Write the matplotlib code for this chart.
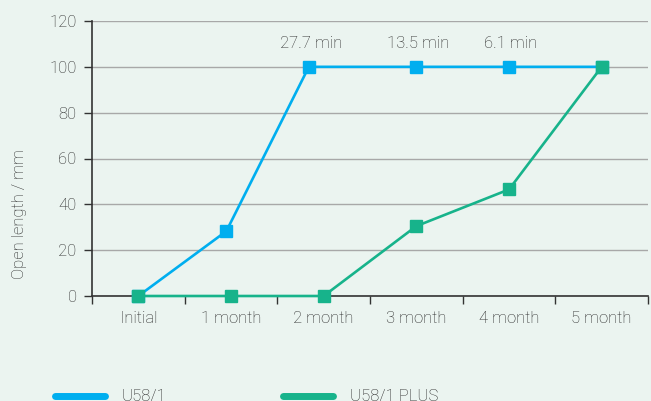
import matplotlib.pyplot as plt
from matplotlib.lines import Line2D
import numpy as np

plt.rcParams['font.family'] = ['Roboto', 'DejaVu Sans']
plt.rcParams['font.weight'] = 'light'

categories = ["Initial", "1 month", "2 month", "3 month", "4 month", "5 month"]

# blue series sits slightly left of the category centre at 1 and 2 month
u58_x = [0, 0.95, 1.84, 3, 4, 5]
u58_y = [0, 28.3, 100, 100, 100, 100]

plus_x = [0, 1, 2, 3, 4, 5]
plus_y = [0, 0, 0, 30.5, 46.5, 100]

note_x = [1.87, 3.02, 4.02]
note_text = ["27.7 min", "13.5 min", "6.1 min"]
note_y = 110

blue = '#00aeef'
green = '#17b38b'
bg = '#ebf4f0'
txt = '#262626'
fs = 12

fig = plt.figure(figsize=(6.51, 4.01), dpi=100, facecolor=bg)
ax = fig.add_axes([92/651, 1-296/401, 556/651, 275/401], facecolor=bg)

ax.set_xlim(-0.5, 5.5)
ax.set_ylim(0, 120)
ax.set_yticks(np.arange(0, 121, 20))
ax.yaxis.grid(True, color='#a8a8a8', linewidth=1)
ax.set_axisbelow(True)

ax.plot(u58_x, u58_y, color=blue, lw=1.9, marker='s', ms=8, zorder=3, clip_on=False)
ax.plot(plus_x, plus_y, color=green, lw=1.9, marker='s', ms=8, zorder=4, clip_on=False)

for x, t in zip(note_x, note_text):
    ax.text(x, note_y, t, ha='center', va='center', fontsize=fs, color=txt)

ax.set_xticks(range(len(categories)))
ax.set_xticklabels(categories)
ax.set_xticks(np.arange(-0.5, 5.6, 1), minor=True)
ax.tick_params(axis='x', which='major', length=0, pad=11, labelsize=fs, labelcolor=txt)
ax.tick_params(axis='x', which='minor', length=6, width=1, color='#333333')
ax.tick_params(axis='y', length=6, width=1, color='#333333', labelsize=fs, labelcolor=txt, pad=5)

for s in ['top', 'right']:
    ax.spines[s].set_visible(False)
for s in ['left', 'bottom']:
    ax.spines[s].set_color('#333333')
    ax.spines[s].set_linewidth(1.2)

fig.text(20/651, 1-214/401, "Open length / mm", rotation=90, ha='center', va='center',
         fontsize=fs, color=txt)

handles = [Line2D([], [], color=blue, lw=5, solid_capstyle='round'),
           Line2D([], [], color=green, lw=5, solid_capstyle='round')]
fig.legend(handles, ["U58/1", "U58/1 PLUS"], loc='center left',
           bbox_to_anchor=(55/651, 1-397/401), ncol=2, frameon=False,
           fontsize=fs, labelcolor=txt, handlelength=3.0, handletextpad=1.0,
           columnspacing=7.0, borderpad=0, borderaxespad=0)

fig.savefig("out.png", dpi=100, facecolor=bg)
